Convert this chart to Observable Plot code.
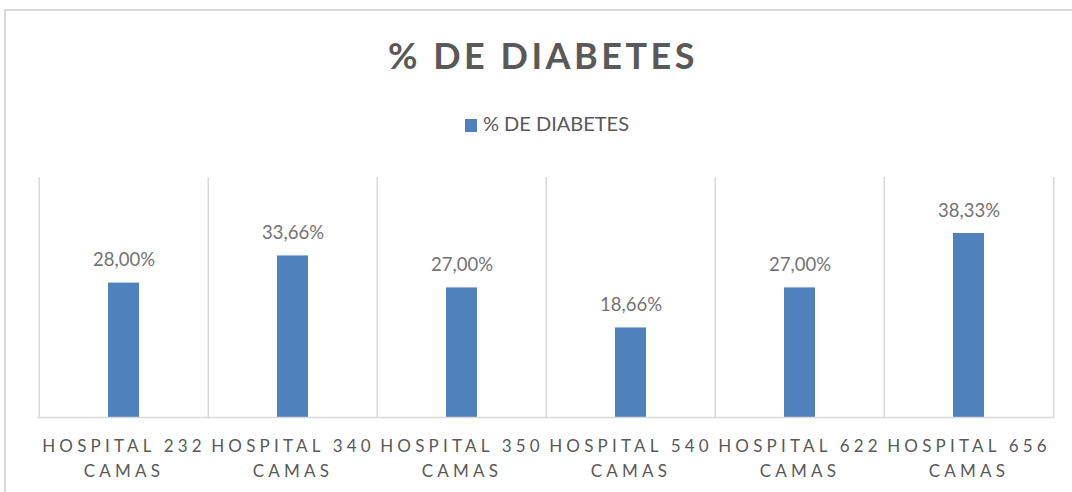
<!DOCTYPE html>
<html>
<head>
<meta charset="utf-8">
<script src="https://cdn.jsdelivr.net/npm/d3@7"></script>
<script src="https://cdn.jsdelivr.net/npm/@observablehq/plot@0.6"></script>
<style>
  html, body { margin: 0; padding: 0; background: #fff; }
  #wrap { position: relative; width: 1072px; height: 492px; overflow: hidden; font-family: Lato, "Open Sans", sans-serif; }
  #box { position: absolute; left: 4px; top: 9px; width: 1100px; height: 500px; border-top: 2px solid #d9d9d9; border-left: 2px solid #d9d9d9; }
  #title { position: absolute; left: 0; width: 1086px; top: 33px; text-align: center; font-size: 36px; font-weight: 700; letter-spacing: 3.5px; color: #595959; }
  #legend { position: absolute; left: 0; width: 1094px; top: 111px; text-align: center; font-size: 20px; color: #595959; }
  #legend .sw { display: inline-block; width: 12px; height: 13px; background: #4F81BD; margin-right: 6px; vertical-align: -1px; }
  #chart { position: absolute; left: 0; top: 160px; }
</style>
</head>
<body>
<div id="wrap">
  <div id="box"></div>
  <div id="title">% DE DIABETES</div>
  <div id="legend"><span class="sw"></span>% DE DIABETES</div>
  <div id="chart"></div>
</div>
<script>
const categories = ["HOSPITAL 232 CAMAS", "HOSPITAL 340 CAMAS", "HOSPITAL 350 CAMAS", "HOSPITAL 540 CAMAS", "HOSPITAL 622 CAMAS", "HOSPITAL 656 CAMAS"];
const values = [28.00, 33.66, 27.00, 18.66, 27.00, 38.33];
const seriesName = "% DE DIABETES";

const data = categories.map((c, i) => ({category: c, value: values[i]}));
const fmt = v => d3.format(".2f")(v).replace(".", ",") + "%";

const W = 1072, H = 332, mL = 37, mR = 18, mT = 17, mB = 75;
const step = (W - mL - mR) / categories.length;

const plot = Plot.plot({
  width: W, height: H,
  marginLeft: mL, marginRight: mR, marginTop: mT, marginBottom: mB,
  style: {background: "transparent", fontFamily: "Lato, 'Open Sans', sans-serif"},
  x: {domain: categories, paddingInner: 0.817, paddingOuter: 0.4085, label: null},
  y: {domain: [0, 50], axis: null},
  marks: [
    Plot.ruleX(categories, {x: d => d, dx: -step / 2, stroke: "#d9d9d9", strokeWidth: 1.5}),
    Plot.ruleX([categories[categories.length - 1]], {x: d => d, dx: step / 2, stroke: "#d9d9d9", strokeWidth: 1.5}),
    Plot.barY(data, {x: "category", y: "value", fill: "#4F81BD"}),
    Plot.ruleY([0], {stroke: "#d9d9d9", strokeWidth: 1.5}),
    Plot.text(data, {x: "category", y: "value", text: d => fmt(d.value), lineAnchor: "bottom", dy: -17, fontSize: 18.5, fill: "#737373"}),
    Plot.axisX({
      tickSize: 0, tickPadding: 0,
      tickFormat: d => d.replace(/ CAMAS$/, "\nCAMAS"),
      fontSize: 17, lineHeight: 1.5, dy: 16,
      fill: "#595959", label: null
    })
  ]
});
plot.querySelectorAll("g[aria-label='x-axis tick label'] text").forEach(t => t.style.letterSpacing = "4.2px");
document.getElementById("chart").appendChild(plot);
</script>
</body>
</html>
